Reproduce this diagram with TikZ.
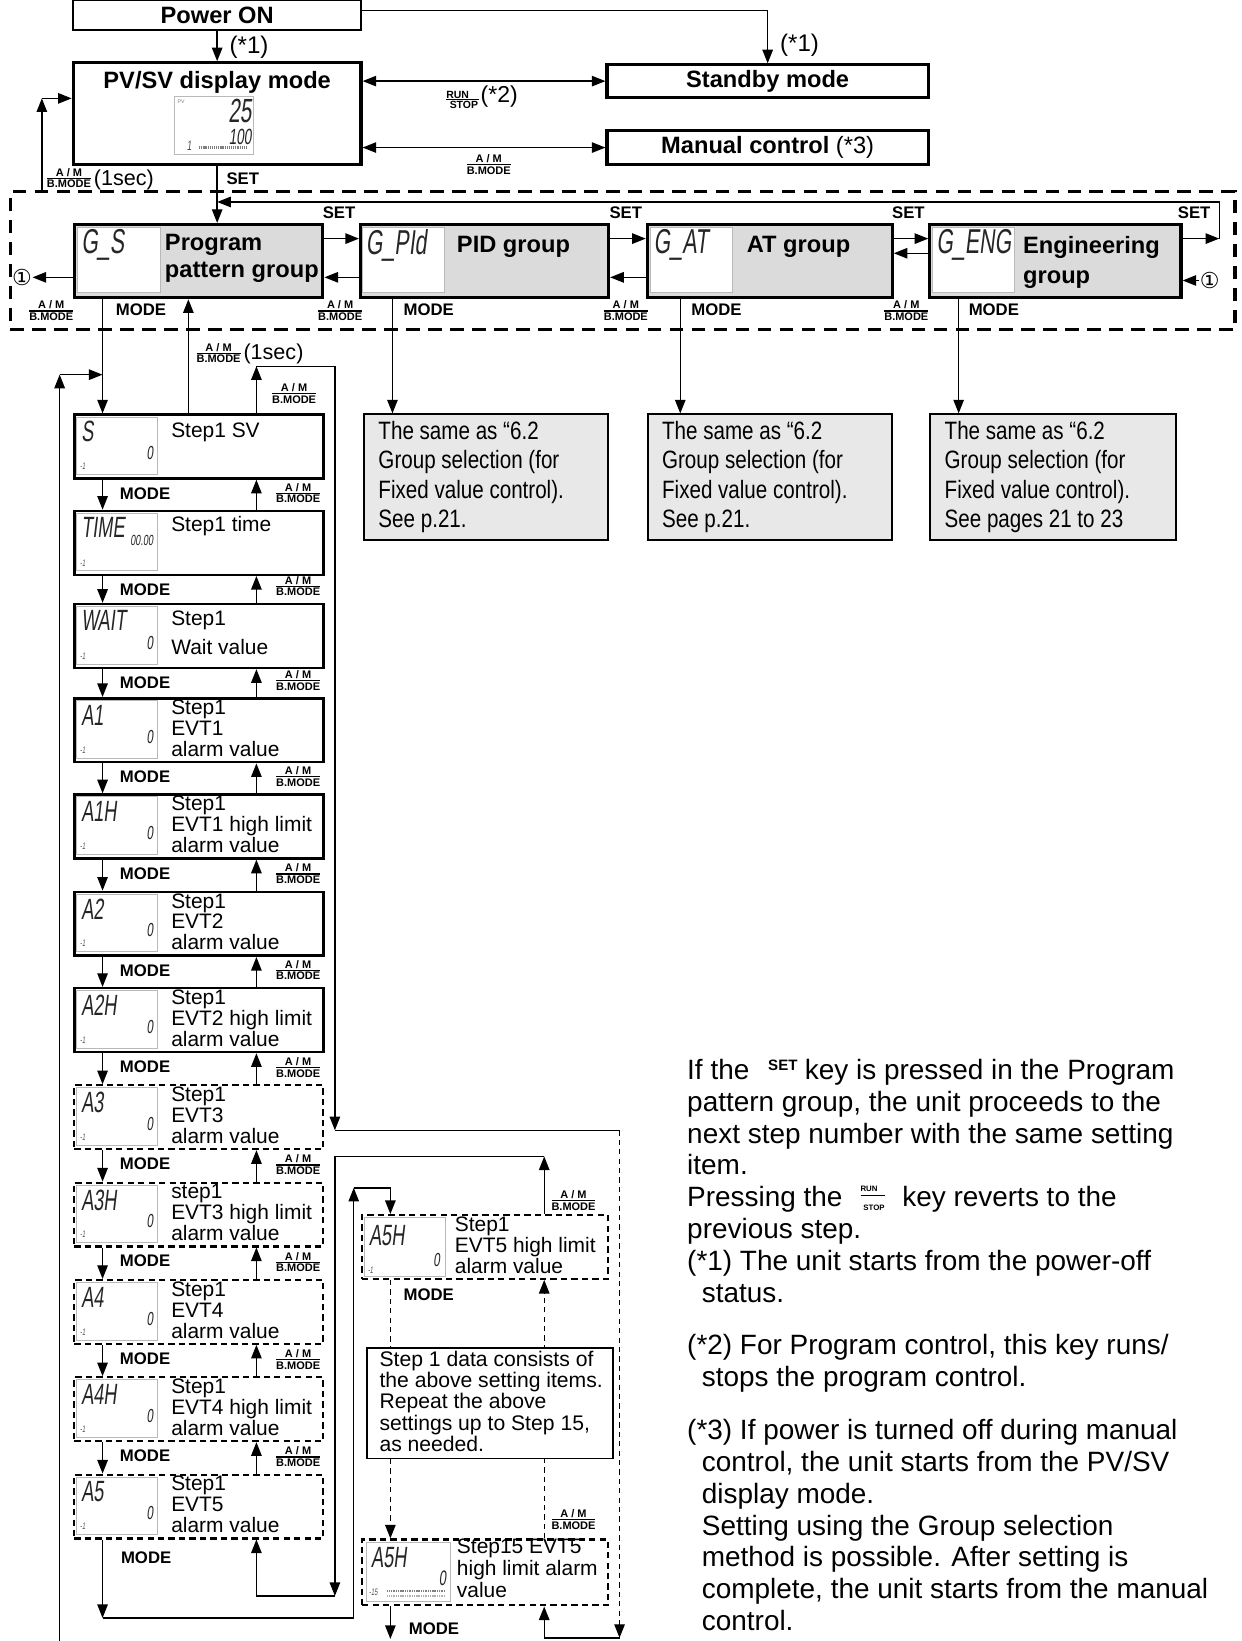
\documentclass[tikz,border=0pt]{standalone}
\usepackage{fontspec}
\setmainfont{Liberation Sans}
\newfontfamily\rfnarrow[FakeStretch=0.82]{Liberation Sans}
\newfontfamily\lcdface[FakeStretch=0.62,FakeSlant=0.12]{Liberation Sans}
\newfontfamily\symface{DejaVu Sans}
\usetikzlibrary{arrows.meta}
\usetikzlibrary{positioning}

\newcommand{\hdfont}{\fontsize{22.6}{26}\selectfont\bfseries}
\newcommand{\kyfont}{\fontsize{16}{16}\selectfont\bfseries}
\newcommand{\stfont}{\fontsize{20}{20}\selectfont}
\newcommand{\smfont}{\fontsize{10.5}{10.5}\selectfont\bfseries}
\newcommand{\amkey}{${\mbox{\smfont A / M}\above1.2pt\mbox{\smfont B.MODE}}$}
\newcommand{\rskey}[1]{${\mbox{\fontsize{#1}{#1}\selectfont\bfseries RUN\hspace{#1pt}}\above1pt\mbox{\fontsize{#1}{#1}\selectfont\bfseries\hspace{2pt}STOP}}$}

\begin{document}
\begin{tikzpicture}[x=1pt,y=-1pt,line width=1.3pt,
  arr/.style={-{Triangle[length=13pt,width=10pt]}},
  darr/.style={{Triangle[length=13pt,width=10pt]}-{Triangle[length=13pt,width=10pt]}},
  dsh/.style={dash pattern=on 5pt off 4pt},
  modebox/.style={draw,line width=3pt,inner sep=0,minimum width=275},
  grpbox/.style={draw,line width=3pt,fill=gray!28,inner sep=0,minimum height=70,anchor=north west},
  lcdbox/.style={draw=gray!55,line width=0.8pt,fill=white,inner sep=0,anchor=north west},
  stepbox/.style={draw,line width=2.4pt,inner sep=0,minimum width=238,minimum height=61,anchor=north west},
  dstepbox/.style={stepbox,line width=2pt,dash pattern=on 6pt off 4pt},
  refbox/.style={draw,line width=1.8pt,fill=gray!18,inner sep=0,minimum width=233,minimum height=120,anchor=north west},
  txt/.style={inner sep=0,align=left,anchor=north west},
  lbl/.style={inner sep=0,font=\kyfont},
  lcdbig/.style={inner sep=0,font=\lcdface\fontsize{28}{28}\selectfont,text=black!85},
  lcdval/.style={inner sep=0,font=\lcdface\fontsize{18}{18}\selectfont,text=black!85},
  lcdidx/.style={inner sep=0,font=\lcdface\fontsize{9}{9}\selectfont,text=black!70},
]
\useasboundingbox (0,0) rectangle (1186,1568);

% top modes
\node[modebox,line width=1.5pt,minimum height=28,font=\hdfont] (pwr) at (207.5,14.5) {Power ON};
\node[modebox,minimum height=97] (pvsv) at (207.5,108.5) {};
\node[inner sep=0,font=\hdfont] (pvsvt) at (207.5,78.5) {PV/SV display mode};
\node[lcdbox,minimum width=76,minimum height=55] (pvlcd) at (166,92) {};
\node[lcdbig,font=\lcdface\fontsize{32}{32}\selectfont,anchor=north east] at (241,94) {25};
\node[lcdbig,font=\lcdface\fontsize{21}{21}\selectfont,anchor=north east] at (241,123) {100};
\node[lcdidx,font=\lcdface\fontsize{13}{13}\selectfont,anchor=south west] at (178,144) {1};
\node[inner sep=0,font=\fontsize{5}{5}\selectfont,text=gray,anchor=north west] at (169,95) {PV};
\draw[gray,line width=3pt,dash pattern=on 1pt off 0.8pt] (190,141) -- (236,141);
\node[modebox,minimum width=307,minimum height=31,font=\hdfont] (stby) at (733.5,77.5) {Standby mode};
\node[modebox,minimum width=307,minimum height=32,font=\hdfont] (manu) at (733.5,141) {Manual control \mdseries(*3)};

% group zone
\node[draw,line width=3pt,dash pattern=on 13pt off 8pt,inner sep=0,minimum width=1170,minimum height=132] (zone) at (595,249) {};
\node[grpbox,minimum width=237] (prog) at (70,213) {};
\node[grpbox,minimum width=237] (pid) at (343,213) {};
\node[grpbox,minimum width=234] (atg) at (617,213) {};
\node[grpbox,minimum width=240] (eng) at (887,213) {};
\node[lcdbox,minimum width=79,minimum height=62] at (74,217) {};
\node[lcdbox,minimum width=78,minimum height=62] at (346,217) {};
\node[lcdbox,minimum width=78,minimum height=62] at (621,217) {};
\node[lcdbox,minimum width=78,minimum height=62] at (891,217) {};
\node[lcdbig,font=\lcdface\fontsize{33}{33}\selectfont,anchor=north west] at (77,219) {G\_S};
\node[lcdbig,font=\lcdface\fontsize{33}{33}\selectfont,anchor=north west] at (349,219) {G\_PId};
\node[lcdbig,font=\lcdface\fontsize{33}{33}\selectfont,anchor=north west] at (624,219) {G\_AT};
\node[lcdbig,font=\lcdface\fontsize{33}{33}\selectfont,anchor=north west] at (894,219) {G\_ENG};
\node[txt,font=\hdfont] at (157,223) {Program\\pattern group};
\node[txt,font=\hdfont] at (436,225) {PID group};
\node[txt,font=\hdfont] at (713,225) {AT group};
\node[txt,font=\hdfont] at (977,225) {Engineering\\[3pt]group};
\node[inner sep=0,font=\symface\fontsize{21}{21}\selectfont] (cl) at (21,265) {①};
\node[inner sep=0,font=\symface\fontsize{21}{21}\selectfont] (cr) at (1156,268) {①};

% reference boxes
\node[refbox] (ref1) at (347,395) {};
\node[refbox] (ref2) at (618,395) {};
\node[refbox,minimum width=235] (ref3) at (888,395) {};
\foreach \x/\last in {361/{See p.21.},632/{See p.21.},902/{See pages 21 to 23}}
  \node[txt,font=\rfnarrow\fontsize{24}{28}\selectfont] at (\x,402) {The same as “6.2\\Group selection (for\\Fixed value control).\\\last};

% step boxes
\foreach \i/\ty/\sty/\code/\val/\vy/\txt/\dy/\bsk in {
  1/395/stepbox/S/0/45/{Step1 SV}/8/20,
  2/487/stepbox/TIME/{\fontsize{14}{14}\selectfont 00.00}/35/{Step1 time}/6/20,
  3/576/stepbox/WAIT/0/45/{Step1\\Wait value}/7/28,
  4/666/stepbox/A1/0/45/{Step1\\EVT1\\alarm value}/2/20,
  5/758/stepbox/A1H/0/45/{Step1\\EVT1 high limit\\alarm value}/2/20,
  6/851/stepbox/A2/0/45/{Step1\\EVT2\\alarm value}/2/20,
  7/943/stepbox/A2H/0/45/{Step1\\EVT2 high limit\\alarm value}/2/20,
  8/1036/dstepbox/A3/0/45/{Step1\\EVT3\\alarm value}/2/20,
  9/1129/dstepbox/A3H/0/45/{step1\\EVT3 high limit\\alarm value}/2/20,
  10/1222/dstepbox/A4/0/45/{Step1\\EVT4\\alarm value}/2/20,
  11/1315/dstepbox/A4H/0/45/{Step1\\EVT4 high limit\\alarm value}/2/20,
  12/1408/dstepbox/A5/0/45/{Step1\\EVT5\\alarm value}/2/20}
{
  \node[\sty] (st\i) at (70,\ty) {};
  \node[lcdbox,minimum width=77,minimum height=55] at (73,\ty+3) {};
  \node[lcdbig,anchor=north west] at (77,\ty+7) {\code};
  \node[lcdval,anchor=south east] at (147,\ty+\vy) {\val};
  \node[lcdidx,anchor=north west] at (76,\ty+47) {-1};
  \node[txt,font=\fontsize{20}{\bsk}\selectfont] at (163,\ty+\dy) {\txt};
}

% right column
\node[dstepbox,minimum width=235] (r1) at (345,1160) {};
\node[lcdbox,minimum width=77,minimum height=56] at (348,1163) {};
\node[lcdbig,anchor=north west] at (352,1170) {A5H};
\node[lcdval,anchor=south east] at (421,1211) {0};
\node[lcdidx,anchor=north west] at (351,1210) {-1};
\node[txt,font=\stfont] at (434,1162) {Step1\\EVT5 high limit\\alarm value};
\node[dstepbox,minimum width=235,minimum height=63] (s15) at (345,1470) {};
\node[lcdbox,minimum width=80,minimum height=57] at (350,1473) {};
\node[lcdbig,anchor=north west] at (354,1478) {A5H};
\node[lcdval,font=\lcdface\fontsize{20}{20}\selectfont,anchor=south east] at (427,1516) {0};
\node[lcdidx,anchor=north west] at (352,1518) {-15};
\draw[gray,line width=2pt,dash pattern=on 1pt off 0.7pt] (370,1520) -- (426,1520);
\draw[gray!60,line width=2.5pt,dash pattern=on 1pt off 0.7pt] (370,1525) -- (426,1525);
\node[txt,font=\fontsize{20}{21}\selectfont] at (436,1470) {Step15 EVT5\\high limit alarm\\value};

% top connectors
\coordinate (pwrR) at (733.5,10);
\draw[arr] (pwr.south) -- (pvsv.north);
\node[inner sep=0,font=\fontsize{23}{23}\selectfont] at (238,45) {(*1)};
\draw[arr] (pwr.east |- pwrR) -- (pwrR) -- (stby.north);
\node[inner sep=0,font=\fontsize{23}{23}\selectfont] at (764,43) {(*1)};
\draw[darr] (pvsv.east |- stby) -- (stby.west);
\draw[darr] (pvsv.east |- manu) -- (manu.west);
\node[inner sep=0] at (460,93) {\rskey{10}\fontsize{22}{22}\selectfont(*2)};
\node[inner sep=0] at (467,157) {\amkey};
\coordinate (lp1) at (40,94);
\draw[arr] (zone.north -| lp1) -- (lp1);
\draw[arr] (lp1) -- (lp1 -| pvsv.west);
\node[inner sep=0,anchor=west] at (43,171) {\raisebox{4pt}{\amkey}\,{\fontsize{20.6}{20.6}\selectfont(1sec)}};
\draw[arr] (pvsv.south) -- (pvsv.south |- prog.north);
\node[lbl] at (232,171) {SET};

% group row
\coordinate (ySet) at (0,228);
\coordinate (yBk) at (0,265);
\coordinate (yBk2) at (0,242);
\coordinate (sr1) at (1165,228);
\coordinate (sr2) at (1165,193);
\draw[arr] (prog.east |- ySet) -- (pid.west |- ySet);
\draw[arr] (pid.east |- ySet) -- (atg.west |- ySet);
\draw[arr] (atg.east |- ySet) -- (eng.west |- ySet);
\draw[arr] (eng.east |- sr1) -- (sr1);
\draw[arr] (sr1) -- (sr2) -- (sr2 -| pvsv.south);
\draw[arr] (pid.west |- yBk) -- (prog.east |- yBk);
\draw[arr] (atg.west |- yBk) -- (pid.east |- yBk);
\draw[arr] (eng.west |- yBk2) -- (atg.east |- yBk2);
\draw[arr] (prog.west |- cl) -- (cl.east);
\draw[arr] (cr.west) -- (eng.east |- cr);
\foreach \x in {324,598,868,1141} \node[lbl] at (\x,203) {SET};
\foreach \x in {49,325,598,866} \node[inner sep=0] at (\x,297) {\amkey};
\foreach \x in {110,385,660,925} \node[lbl,anchor=west] at (\x,296) {MODE};
\foreach \g/\rb/\x in {pid/ref1/375,atg/ref2/650,eng/ref3/916} {
  \coordinate (k) at (\x,0);
  \draw[arr] (\g.south -| k) -- (\rb.north -| k);
}

% step column
\coordinate (xM) at (98,0);
\coordinate (xA) at (245,0);
\coordinate (xC) at (180,0);
\coordinate (xD) at (373,0);
\coordinate (xE) at (520,0);
\draw[arr] (prog.south -| xM) -- (st1.north -| xM);
\draw[arr] (st1.north -| xC) -- (prog.south -| xC);
\node[inner sep=0,anchor=west] at (186,338) {\raisebox{4pt}{\amkey}\,{\fontsize{20.6}{20.6}\selectfont(1sec)}};
\foreach \i [evaluate=\i as \j using int(\i+1)] in {1,...,11} {
  \draw[arr] (st\i.south -| xM) -- (st\j.north -| xM);
  \draw[arr] (st\j.north -| xA) -- (st\i.south -| xA);
  \path (st\i.south -| xM) ++(16,13) node[lbl,anchor=west] {MODE};
  \path (st\j.north -| xA) ++(17,-16) node[inner sep=0,anchor=west] {\amkey};
}

% loops
\coordinate (lpb) at (57,1568);
\coordinate (lpt) at (57,358);
\draw[arr] (lpb) -- (lpt);
\draw[arr] (lpt) -- (lpt -| xM);
\coordinate (rt1) at (245,350);
\coordinate (rt2) at (320,350);
\coordinate (rt3) at (320,1080);
\coordinate (rt4) at (592,1080);
\coordinate (rt5) at (592,1565);
\coordinate (rt6) at (520,1565);
\draw[arr] (st1.north -| rt1) -- (rt1);
\draw[arr] (rt1) -- (rt2) -- (rt3);
\draw (rt3) -- (rt4);
\draw[arr,dsh] (rt4) -- (rt5);
\draw[arr] (rt5) -- (rt6) -- (rt6 |- s15.south);
\node[inner sep=0] at (281,376) {\amkey};
\coordinate (b1) at (98,1546);
\coordinate (b2) at (338,1546);
\coordinate (b3) at (338,1135);
\coordinate (b4) at (373,1135);
\draw[arr] (st12.south -| xM) -- (b1);
\draw[arr] (b1) -- (b2) -- (b3);
\draw[arr] (b3) -- (b4) -- (r1.north -| b4);
\node[lbl,anchor=west] at (115,1488) {MODE};
\coordinate (c1) at (520,1105);
\coordinate (c2) at (320,1105);
\coordinate (c3) at (320,1525);
\coordinate (c4) at (245,1525);
\draw[arr] (r1.north -| c1) -- (c1);
\draw[arr] (c1) -- (c2) -- (c3);
\draw[arr] (c3) -- (c4) -- (st12.south -| c4);
\node[inner sep=0] at (548,1147) {\amkey};
\draw[arr,dsh] (r1.south -| xD) -- (s15.north -| xD);
\draw[arr,dsh] (s15.north -| xE) -- (r1.south -| xE);
\node[lbl,anchor=west] at (385,1237) {MODE};
\node[inner sep=0] at (548,1452) {\amkey};
\coordinate (e1) at (373,1566);
\draw[arr] (s15.south -| xD) -- (e1);
\node[lbl,anchor=west] at (390,1556) {MODE};

% note box
\node[draw,line width=1.5pt,fill=white,inner sep=0,minimum width=235,minimum height=106,anchor=north west] (note) at (350,1287) {};
\node[txt,font=\fontsize{20.2}{20.5}\selectfont] at (362,1290) {Step 1 data consists of\\the above setting items.\\Repeat the above\\settings up to Step 15,\\as needed.};

% explanation text
\node[txt,font=\fontsize{26.7}{30.4}\selectfont] (para) at (656,1011.5) {If the\hspace{18pt}\raisebox{8.5pt}{\fontsize{14.4}{14.4}\selectfont\bfseries SET}\hspace{7pt}key is pressed in the Program\\
pattern group, the unit proceeds to the\\
next step number with the same setting\\
item.\\
Pressing the\hspace{16pt}\raisebox{5pt}{\rskey{7.5}}\hspace{15pt}key reverts to the\\
previous step.\\
(*1) The unit starts from the power-off\\
\hspace*{14pt}status.\\[20pt]
(*2) For Program control, this key runs/\\
\hspace*{14pt}stops the program control.\\[20pt]
(*3) If power is turned off during manual\\
\hspace*{14pt}control, the unit starts from the PV/SV\\
\hspace*{14pt}display mode.\\
\hspace*{14pt}Setting using the Group selection\\
\hspace*{14pt}method is possible. After setting is\\
\hspace*{14pt}complete, the unit starts from the manual\\
\hspace*{14pt}control.};
\end{tikzpicture}
\end{document}
